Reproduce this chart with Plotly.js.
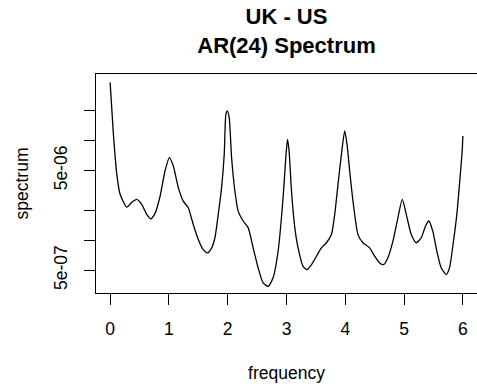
<!DOCTYPE html>
<html>
<head>
<meta charset="utf-8">
<script src="https://cdn.plot.ly/plotly-3.0.1.min.js"></script>
<style>html,body{margin:0;padding:0;background:#fff;}#chart{width:477px;height:392px;}</style>
</head>
<body>
<div id="chart"></div>
<script>
const frequency = [0.000,0.056,0.114,0.170,0.284,0.368,0.453,0.538,0.623,0.691,0.764,0.849,0.934,1.007,1.075,1.160,1.244,1.329,1.414,1.499,1.584,1.659,1.727,1.783,1.839,1.896,1.941,1.969,1.992,2.025,2.066,2.122,2.178,2.263,2.348,2.433,2.518,2.603,2.688,2.772,2.857,2.942,2.988,3.017,3.044,3.085,3.141,3.197,3.282,3.350,3.425,3.509,3.594,3.679,3.764,3.820,3.876,3.934,3.990,4.029,4.075,4.131,4.216,4.300,4.414,4.499,4.584,4.652,4.725,4.810,4.895,4.969,5.037,5.122,5.207,5.292,5.365,5.421,5.489,5.557,5.632,5.717,5.772,5.840,5.897,5.942,5.988,6.000];
const spectrum = [3.84e-5,1.16e-5,4.59e-6,2.89e-6,2.15e-6,2.40e-6,2.57e-6,2.29e-6,1.82e-6,1.64e-6,1.86e-6,2.75e-6,4.95e-6,6.76e-6,5.56e-6,3.37e-6,2.47e-6,2.12e-6,1.44e-6,1.02e-6,8.07e-7,7.48e-7,8.39e-7,1.06e-6,1.82e-6,3.37e-6,7.30e-6,1.84e-5,1.99e-5,1.71e-5,6.76e-6,3.12e-6,1.96e-6,1.56e-6,1.34e-6,8.39e-7,5.28e-7,3.73e-7,3.45e-7,4.20e-7,7.76e-7,2.67e-6,6.76e-6,1.03e-5,7.87e-6,3.12e-6,1.34e-6,8.39e-7,5.48e-7,5.08e-7,5.70e-7,6.92e-7,8.39e-7,9.44e-7,1.14e-6,1.82e-6,3.64e-6,7.30e-6,1.25e-5,9.20e-6,4.95e-6,2.47e-6,1.14e-6,9.44e-7,8.39e-7,6.92e-7,5.93e-7,5.70e-7,6.67e-7,9.79e-7,1.68e-6,2.57e-6,1.82e-6,1.14e-6,9.44e-7,1.06e-6,1.39e-6,1.56e-6,1.23e-6,7.76e-7,5.28e-7,4.53e-7,5.28e-7,9.79e-7,1.82e-6,3.64e-6,7.87e-6,1.11e-5];
const xTickVals = [0,1,2,3,4,5,6];
const xTickText = ['0','1','2','3','4','5','6'];
const yTickVals = [5e-7,1e-6,2e-6,5e-6,1e-5,2e-5];
const yTickText = ['5e-07','','','5e-06','',''];

const fontFam = 'Liberation Sans, Arial, sans-serif';
const trace = {
  x: frequency, y: spectrum, type: 'scatter', mode: 'lines',
  line: {color: '#000', width: 1.3, shape: 'spline', smoothing: 0.6},
  hoverinfo: 'skip'
};
const layout = {
  width: 477, height: 392,
  margin: {l: 96, r: 0, t: 74, b: 99},
  paper_bgcolor: '#fff', plot_bgcolor: '#fff',
  showlegend: false,
  font: {family: fontFam, size: 17.5, color: '#000'},
  title: {text: '<b>UK - US</b><br><b>AR(24) Spectrum</b>', font: {family: fontFam, size: 22, color: '#000'},
          x: 0.5, xref: 'paper', xanchor: 'center', y: 0.939, yref: 'container', yanchor: 'top'},
  xaxis: {
    range: [-0.24, 6.24], tickvals: xTickVals, ticktext: xTickText,
    ticks: 'outside', ticklen: 11, tickwidth: 1, tickcolor: '#000',
    ticklabelstandoff: 9,
    showgrid: false, zeroline: false, showline: true, mirror: true, linecolor: '#000', linewidth: 1,
    title: {text: 'frequency', font: {size: 17.5}, standoff: 28},
    automargin: false
  },
  yaxis: {
    type: 'log', range: [-6.529, -4.332], tickvals: yTickVals, ticktext: yTickText,
    tickangle: -90,
    ticks: 'outside', ticklen: 11, tickwidth: 1, tickcolor: '#000',
    ticklabelstandoff: 10,
    showgrid: false, zeroline: false, showline: true, mirror: true, linecolor: '#000', linewidth: 1,
    title: {text: 'spectrum', font: {size: 17.5}, standoff: 17},
    automargin: false
  }
};
Plotly.newPlot('chart', [trace], layout, {staticPlot: true, displayModeBar: false});
</script>
</body>
</html>
